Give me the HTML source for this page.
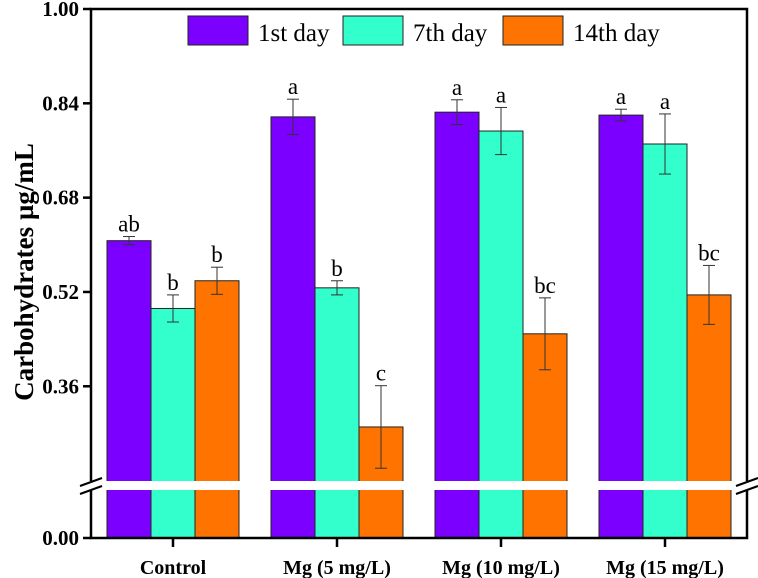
<!DOCTYPE html>
<html><head><meta charset="utf-8"><style>
html,body{margin:0;padding:0;background:#fff}
svg{display:block;font-family:"Liberation Serif",serif}
</style></head><body>
<svg id="c" width="758" height="578" viewBox="0 0 758 578"></svg>
<script>
const categories=["Control","Mg (5 mg/L)","Mg (10 mg/L)","Mg (15 mg/L)"];
const seriesNames=["1st day","7th day","14th day"];
const day1=[0.607,0.817,0.825,0.820];
const day7=[0.492,0.527,0.793,0.771];
const day14=[0.539,0.291,0.449,0.515];
const err1=[0.007,0.030,0.021,0.010];
const err7=[0.023,0.012,0.040,0.051];
const err14=[0.023,0.070,0.061,0.050];
const lab1=["ab","a","a","a"];
const lab7=["b","b","a","a"];
const lab14=["b","c","bc","bc"];
const yTicks=[0.36,0.52,0.68,0.84,1.00];
const colors=["#7b00ff","#33ffcc","#ff7400"];
const NS="http://www.w3.org/2000/svg";
const svg=document.getElementById('c');
function el(t,a,p){const e=document.createElementNS(NS,t);for(const k in a)e.setAttribute(k,a[k]);(p||svg).appendChild(e);return e;}
const L=91,R=747,T=9,B=538;
function y(v){return T+(1-v)*589.5;}
const gx0=107,gstep=164,bw=44;
function bx(i,s){return gx0+i*gstep+s*bw;}
const vals=[day1,day7,day14],errs=[err1,err7,err14],labs=[lab1,lab7,lab14];
for(let s=0;s<3;s++){for(let i=0;i<4;i++){
 const v=vals[s][i],x=bx(i,s);
 const r=el('rect',{x:x,y:y(v),width:bw,height:B-y(v),fill:colors[s],stroke:'#222','stroke-width':1});
 
 
 const cx=x+bw/2,e=errs[s][i];
 const g=el('g',{stroke:'#333','stroke-width':1});
 
 
 el('line',{x1:cx,x2:cx,y1:y(v+e),y2:y(v-e)},g);
 el('line',{x1:cx-6,x2:cx+6,y1:y(v+e),y2:y(v+e)},g);
 el('line',{x1:cx-6,x2:cx+6,y1:y(v-e),y2:y(v-e)},g);
 const t=el('text',{x:cx,y:y(v+e)-5,'text-anchor':'middle','font-size':23,fill:'#000'});
 t.textContent=labs[s][i];
 
 
}}
el('rect',{x:L+2,y:481,width:R-L-4,height:9,fill:'#fff'});
el('rect',{x:L,y:T,width:R-L,height:B-T,fill:'none',stroke:'#000','stroke-width':2.5});
el('rect',{x:L-3,y:481,width:6,height:9,fill:'#fff'});
el('rect',{x:R-3,y:481,width:6,height:9,fill:'#fff'});
[L,R].forEach(xx=>{el('line',{x1:xx-11,y1:486,x2:xx+11,y2:478,stroke:'#000','stroke-width':2});el('line',{x1:xx-11,y1:494,x2:xx+11,y2:486,stroke:'#000','stroke-width':2});});
yTicks.forEach(v=>{el('line',{x1:L-8,x2:L,y1:y(v),y2:y(v),stroke:'#000','stroke-width':2.5});
 const t=el('text',{x:L-12,y:y(v)+7,'text-anchor':'end','font-size':21,'font-weight':'bold'});t.textContent=v.toFixed(2);
 });
el('line',{x1:L-8,x2:L,y1:B,y2:B,stroke:'#000','stroke-width':2.5});
const z=el('text',{x:L-12,y:B+7,'text-anchor':'end','font-size':21,'font-weight':'bold'});z.textContent="0.00";

categories.forEach((c,i)=>{const cx=gx0+i*gstep+1.5*bw;
 el('line',{x1:cx,x2:cx,y1:B,y2:B+9,stroke:'#000','stroke-width':2.5});
 const t=el('text',{x:cx,y:574,'text-anchor':'middle','font-size':20,'font-weight':'bold'});t.textContent=c;
 });
const yt=el('text',{x:0,y:0,'text-anchor':'middle','font-size':27,'font-weight':'bold',transform:'translate(33,272) rotate(-90)'});
yt.textContent="Carbohydrates µg/mL";

const lx=[188,343,503];
seriesNames.forEach((n,s)=>{
 const r=el('rect',{x:lx[s],y:16,width:60,height:29,fill:colors[s],stroke:'#222','stroke-width':1});
 
 const t=el('text',{x:lx[s]+70,y:41,'font-size':25});t.textContent=n;
 
});
</script>
</body></html>
